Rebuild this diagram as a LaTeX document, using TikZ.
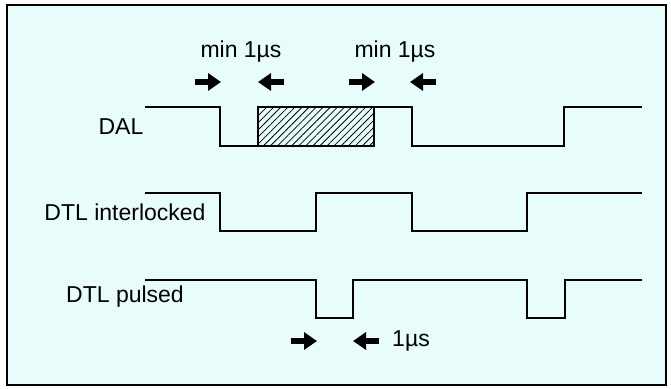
\documentclass[tikz,border=0pt]{standalone}
\usepackage{fontspec}
\setmainfont{Liberation Sans}
\usetikzlibrary{arrows.meta,patterns.meta}
\definecolor{panelbg}{RGB}{232,252,252}

\begin{document}
\begin{tikzpicture}[x=1pt, y=-1pt, >={Triangle[length=13pt,width=17pt]}, font=\fontsize{23}{27}\selectfont]
			% Fix the size of the page
			\useasboundingbox (0,0) rectangle (671,388);
			\draw[line width=2pt, fill=panelbg] (7,5) rectangle (666,385);

			% Signal names
			\node (dal) at (121,127) {DAL};
			\node (dtlint) at (125,212) {DTL interlocked};
			\node (dtlpul) at (125,297) {DTL pulsed};

			% Waveforms
			\draw[line width=1.8pt] (145,107) -- (220,107) -- (220,146) -- (258,146);
			\draw[line width=1.8pt, pattern={Lines[angle=45,distance=5pt,line width=0.8pt]}] (258,107) rectangle (374,146);
			\draw[line width=1.8pt] (374,107) -- (412,107) -- (412,146) -- (564,146) -- (564,107) -- (642,107);
			\draw[line width=1.8pt] (145,193) -- (220,193) -- (220,231) -- (316,231) -- (316,193) -- (412,193) -- (412,231) -- (527,231) -- (527,193) -- (642,193);
			\draw[line width=1.8pt] (145,280) -- (316,280) -- (316,318) -- (353,318) -- (353,280) -- (527,280) -- (527,318) -- (565,318) -- (565,280) -- (642,280);

			% Macro for a pair of arrows pointing at a gap.
			% Usage: \gaparrows{left tip}{right tip}{y}
			\newcommand{\gaparrows}[3]{
				\draw[->, line width=6pt] (#1-26,#3) -- (#1,#3);
				\draw[->, line width=6pt] (#2+26,#3) -- (#2,#3);
			}

			\gaparrows{221}{258}{82};
			\gaparrows{375}{410}{82};
			\gaparrows{317}{353}{341};

			% Timing labels
			\node (gapa) at (241,52) {min 1µs};
			\node (gapb) at (395,52) {min 1µs};
			\node (gapc) at (411,341) {1µs};
		\end{tikzpicture}
\end{document}
